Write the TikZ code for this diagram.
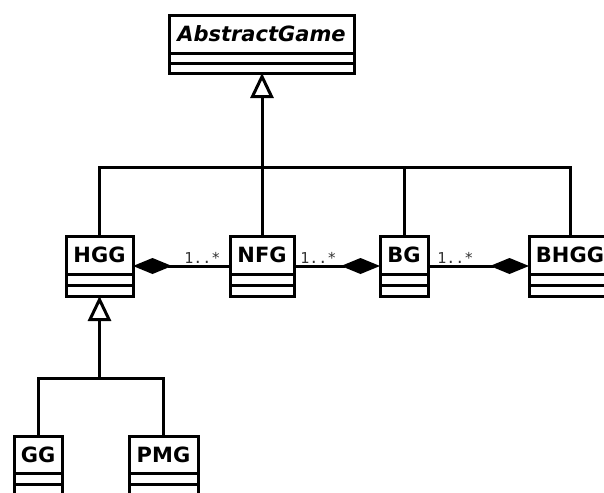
\documentclass[tikz,border=0pt]{standalone}
\usepackage{fontspec}
\setmainfont{DejaVu Sans}
\newfontfamily\monof{DejaVu Sans Mono}
\usetikzlibrary{arrows.meta}
\newcommand\umlbox[7]{%
  \node[cname,minimum width=#4*0.75pt,minimum height=#5*0.75pt] (#1) at (#2,#3) {#7};
  \node[comp,minimum width=#4*0.75pt,minimum height=#6*0.75pt] (#1a) at (#1.south) {};
  \node[comp,minimum width=#4*0.75pt,minimum height=#6*0.75pt] (#1b) at (#1a.south) {};
}
\begin{document}
\begin{tikzpicture}[x=0.75pt,y=-0.75pt,
  lw/.style={line width=2.25pt},
  cname/.style={draw,lw,inner sep=0pt,outer sep=0pt,anchor=north west,font=\fontsize{15.75}{18}\selectfont\bfseries},
  comp/.style={draw,lw,inner sep=0pt,outer sep=0pt,anchor=north},
  mult/.style={font=\monof\fontsize{11.25}{13}\selectfont,text=black!80,inner sep=0pt,anchor=base west},
  gen/.style={lw,-{Triangle[open,length=18.75pt,width=17.25pt]}},
  comps/.style={lw,{Diamond[length=29.25pt,width=12pt]}-},
]
\useasboundingbox (0,0) rectangle (604,493);
\umlbox{abs}{169}{15}{185}{38}{10}{\itshape AbstractGame}
\umlbox{hgg}{66}{236}{67}{38}{11}{HGG}
\umlbox{nfg}{230}{236}{64}{38}{11}{NFG}
\umlbox{bg}{380}{236}{48}{38}{11}{BG}
\umlbox{bhgg}{529}{236}{82}{38}{11}{BHGG}
\umlbox{gg}{14}{436}{48}{37}{11}{GG}
\umlbox{pmg}{129}{436}{69}{37}{11}{PMG}
\path (nfg.north) ++(0,-69) coordinate (j1);
\path (hggb.south) ++(0,82) coordinate (j2);
\draw[lw] (hgg.north) |- (j1) -| (bhgg.north);
\draw[lw] (nfg.north) -- (j1);
\draw[lw] (bg.north) -- (bg.north |- j1);
\draw[gen] (j1) -- (j1 |- absb.south);
\draw[lw] (gg.north) |- (j2) -| (pmg.north);
\draw[gen] (j2) -- (hggb.south);
\draw[comps] ([yshift=-8.25pt]hgg.east) -- ([yshift=-8.25pt]nfg.west);
\draw[comps] ([yshift=-8.25pt]bg.west) -- ([yshift=-8.25pt]nfg.east);
\draw[comps] ([yshift=-8.25pt]bhgg.west) -- ([yshift=-8.25pt]bg.east);
\node[mult] (m1) at (184,263) {1..*};
\node[mult] (m2) at (300,263) {1..*};
\node[mult] (m3) at (437,263) {1..*};
\end{tikzpicture}
\end{document}
